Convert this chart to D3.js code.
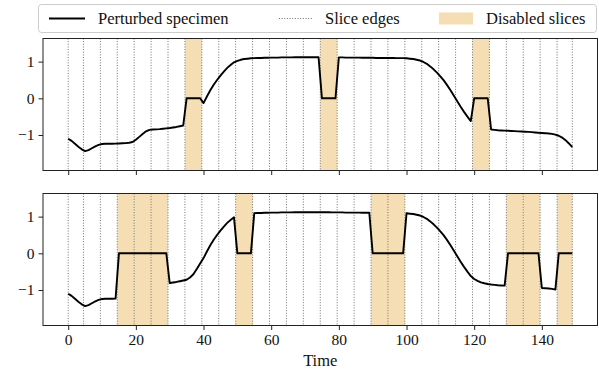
<!DOCTYPE html>
<html>
<head>
<meta charset="utf-8">
<script src="https://cdn.jsdelivr.net/npm/d3@7"></script>
<style>
  html, body { margin: 0; padding: 0; background: #fff; }
  svg { display: block; }
  text { font-family: "Liberation Serif", "DejaVu Serif", serif; fill: #111; }
</style>
</head>
<body>
<svg id="chart" width="599" height="372"></svg>
<script>
// Original specimen, one value per time step (t = 0 .. 149)
const specimen = [
  -1.10, -1.16, -1.24, -1.32, -1.39, -1.44, -1.41, -1.36, -1.31, -1.27,
  -1.245, -1.24, -1.24, -1.24, -1.235, -1.23, -1.225, -1.22, -1.21, -1.19,
  -1.13, -1.05, -0.97, -0.90, -0.86, -0.85, -0.845, -0.84, -0.83, -0.82,
  -0.81, -0.795, -0.78, -0.76, -0.74, -0.72, -0.66, -0.57, -0.43, -0.28,
  -0.13, 0.05, 0.22, 0.37, 0.50, 0.62, 0.73, 0.83, 0.91, 0.98,
  1.02, 1.05, 1.07, 1.08, 1.09, 1.095, 1.10, 1.10, 1.105, 1.105,
  1.11, 1.11, 1.11, 1.115, 1.115, 1.115, 1.115, 1.12, 1.12, 1.12,
  1.12, 1.12, 1.12, 1.12, 1.12, 1.12, 1.12, 1.12, 1.115, 1.115,
  1.115, 1.115, 1.11, 1.11, 1.11, 1.11, 1.11, 1.105, 1.105, 1.105,
  1.105, 1.10, 1.10, 1.10, 1.10, 1.10, 1.10, 1.095, 1.095, 1.095,
  1.09, 1.08, 1.07, 1.05, 1.03, 0.99, 0.94, 0.87, 0.79, 0.70,
  0.60, 0.49, 0.36, 0.22, 0.07, -0.08, -0.23, -0.37, -0.50, -0.62,
  -0.70, -0.75, -0.79, -0.815, -0.835, -0.85, -0.86, -0.87, -0.875, -0.88,
  -0.885, -0.89, -0.895, -0.90, -0.905, -0.91, -0.915, -0.92, -0.93, -0.94,
  -0.945, -0.95, -0.96, -0.97, -0.99, -1.02, -1.07, -1.14, -1.23, -1.33
];

// Slice boundaries (30 slices of 5 steps)
const sliceEdges = [0, 4.5, 9.5, 14.5, 19.5, 24.5, 29.5, 34.5, 39.5, 44.5,
  49.5, 54.5, 59.5, 64.5, 69.5, 74.5, 79.5, 84.5, 89.5, 94.5,
  99.5, 104.5, 109.5, 114.5, 119.5, 124.5, 129.5, 134.5, 139.5, 144.5, 149];

// Disabled slice indices for each perturbation
const disabledTop = [7, 15, 24];
const disabledBottom = [3, 4, 5, 10, 18, 19, 26, 27, 29];

const xTicks = [0, 20, 40, 60, 80, 100, 120, 140];
const yTicks = [-1, 0, 1];
const legendLabels = ["Perturbed specimen", "Slice edges", "Disabled slices"];
const xLabel = "Time";

// Perturbed series: disabled slices are replaced by zero
function perturb(disabled) {
  const out = specimen.slice();
  disabled.forEach(s => {
    for (let t = s * 5; t < s * 5 + 5 && t < out.length; t++) out[t] = 0;
  });
  return out;
}

const svg = d3.select("#chart");
const left = 43, right = 597.5;
const panels = [
  { top: 38.5, bottom: 170.5, disabled: disabledTop, labels: false },
  { top: 193.5, bottom: 325.5, disabled: disabledBottom, labels: true }
];

const x = d3.scaleLinear().domain([-7.45, 156.45]).range([left, right]);
const tickFs = 15.5;
const textFs = 16.5;

panels.forEach(p => {
  const y = d3.scaleLinear().domain([-1.967, 1.63]).range([p.bottom, p.top]);
  const g = svg.append("g");

  // Disabled slice shading
  g.selectAll("rect.dis").data(p.disabled).join("rect")
    .attr("class", "dis")
    .attr("x", s => x(sliceEdges[s]))
    .attr("width", s => x(sliceEdges[s + 1]) - x(sliceEdges[s]))
    .attr("y", p.top).attr("height", p.bottom - p.top)
    .attr("fill", "#f5deb3");

  // Slice edges
  g.selectAll("line.edge").data(sliceEdges).join("line")
    .attr("class", "edge")
    .attr("x1", d => x(d)).attr("x2", d => x(d))
    .attr("y1", p.top).attr("y2", p.bottom)
    .attr("stroke", "#707070").attr("stroke-width", 1)
    .attr("stroke-dasharray", "1,1.65");

  // Perturbed specimen line
  const series = perturb(p.disabled);
  g.append("path")
    .datum(series)
    .attr("fill", "none").attr("stroke", "#000").attr("stroke-width", 1.9)
    .attr("stroke-linejoin", "round")
    .attr("d", d3.line().x((d, i) => x(i)).y(d => y(d)));

  // Frame
  g.append("rect")
    .attr("x", left).attr("y", p.top)
    .attr("width", right - left).attr("height", p.bottom - p.top)
    .attr("fill", "none").attr("stroke", "#222").attr("stroke-width", 1);

  // Axes
  const xa = d3.axisBottom(x).tickValues(xTicks).tickSize(4.5).tickPadding(4)
    .tickFormat(p.labels ? d3.format("d") : "");
  const gx = g.append("g").attr("transform", `translate(0,${p.bottom})`).call(xa);
  const ya = d3.axisLeft(y).tickValues(yTicks).tickSize(4.5).tickPadding(4)
    .tickFormat(d => d < 0 ? "\u2212" + Math.abs(d) : String(d));
  const gy = g.append("g").attr("transform", `translate(${left},0)`).call(ya);
  [gx, gy].forEach(a => {
    a.select(".domain").remove();
    a.selectAll(".tick line").attr("stroke", "#222").attr("stroke-width", 1);
    a.selectAll(".tick text").attr("font-size", tickFs)
      .style("font-family", '"Liberation Serif", serif').attr("fill", "#111");
  });
});

// X axis label
svg.append("text").attr("x", (left + right) / 2).attr("y", 366)
  .attr("text-anchor", "middle").attr("font-size", textFs).text(xLabel);

// Legend
const lg = svg.append("g");
lg.append("rect").attr("x", 38.5).attr("y", 4.5).attr("width", 558).attr("height", 28)
  .attr("rx", 3).attr("fill", "#fff").attr("stroke", "#ccc").attr("stroke-width", 1);
const ly = 18.5;
lg.append("line").attr("x1", 49).attr("x2", 85).attr("y1", ly).attr("y2", ly)
  .attr("stroke", "#000").attr("stroke-width", 1.9);
lg.append("line").attr("x1", 279).attr("x2", 312).attr("y1", ly).attr("y2", ly)
  .attr("stroke", "#707070").attr("stroke-width", 1).attr("stroke-dasharray", "1,1.65");
lg.append("rect").attr("x", 439).attr("y", ly - 6).attr("width", 34).attr("height", 12)
  .attr("fill", "#f5deb3");
const lx = [98, 325, 486];
legendLabels.forEach((t, i) => {
  lg.append("text").attr("x", lx[i]).attr("y", ly + 5.5).attr("font-size", textFs).text(t);
});
</script>
</body>
</html>
